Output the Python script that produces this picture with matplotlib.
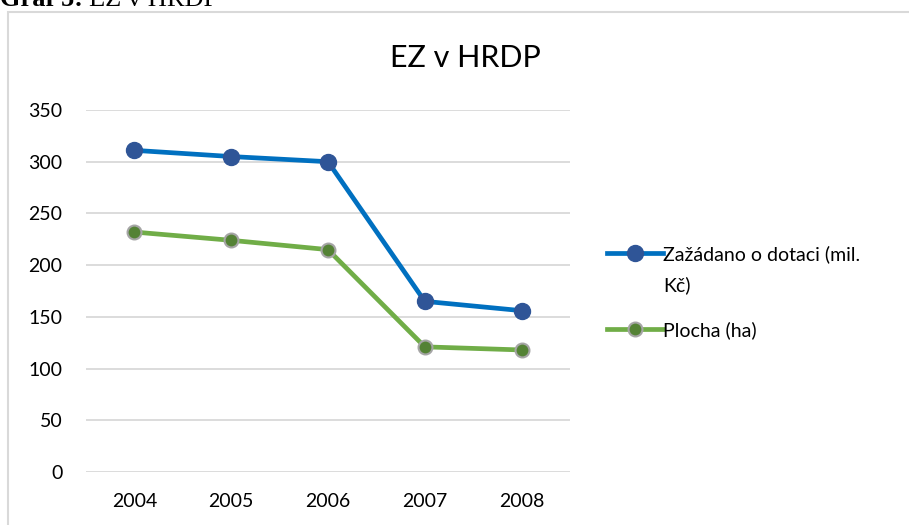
import matplotlib
matplotlib.use("Agg")
from matplotlib import pyplot as plt
from matplotlib.patches import Rectangle

years = ["2004", "2005", "2006", "2007", "2008"]
dotace = [311, 305, 300, 165, 156]
plocha = [232, 224, 215, 121, 118]
label_dotace = "Zažádano o dotaci (mil.\nKč)"
label_plocha = "Plocha (ha)"

plt.rcParams['font.family'] = ['Lato', 'DejaVu Sans']

fig = plt.figure(figsize=(9.09, 5.25), dpi=100)

# frame of the chart box (cut by the page on right/bottom)
fig.patches.append(Rectangle((8/909, -0.1), 1.2, 1 - 12/525 + 0.1, transform=fig.transFigure,
                             fill=False, edgecolor='#d9d9d9', linewidth=1.5))

# caption above the chart, mostly cut off by the top edge
cap1 = fig.text(0.0, 1 - 6/525, "Graf 5:", family='Liberation Serif', fontweight='bold', fontsize=19, va='baseline')
r = fig.canvas.get_renderer()
w = cap1.get_window_extent(r).width
fig.text((w + 6) / 909, 1 - 6/525, "EZ v HRDP", family='Liberation Serif', fontsize=19, va='baseline')

ax = fig.add_axes([86/909, 1 - 472/525, (570-86)/909, (472-110)/525])
x = range(len(years))
ax.plot(x, dotace, color='#0070C0', linewidth=3.4, marker='o', markersize=11.5,
        markerfacecolor='#2F5597', markeredgecolor='#2F5597', label=label_dotace, zorder=3)
ax.plot(x, plocha, color='#70AD47', linewidth=3.4, marker='o', markersize=10,
        markerfacecolor='#548235', markeredgecolor='#A5A5A5', markeredgewidth=1.5, label=label_plocha, zorder=3)

ax.set_xlim(-0.5, 4.5)
ax.set_ylim(0, 350)
ax.set_yticks(range(0, 351, 50))
ax.set_xticks(list(x))
ax.set_xticklabels(years)
ax.grid(axis='y', color='#d9d9d9', linewidth=1.3)
ax.set_axisbelow(True)
for s in ax.spines.values():
    s.set_visible(False)
ax.tick_params(length=0, labelsize=14, colors='#000000')
ax.tick_params(axis='y', pad=17)
ax.tick_params(axis='x', pad=15)

fig.text(465/909, 1 - 58/525, "EZ v HRDP", fontsize=22, ha='center', va='center')

leg = ax.legend(loc='upper left', bbox_to_anchor=(607/909, 1 - 245/525), bbox_transform=fig.transFigure,
                frameon=False, fontsize=14, handlelength=2.9, handleheight=1.0, handletextpad=0.0,
                labelspacing=1.4, borderaxespad=0, borderpad=0)
for t in leg.get_texts():
    t.set_linespacing(1.9)
# handle next to the first line of a wrapped label
for col in leg._legend_handle_box.get_children():
    for item in col.get_children():
        item.align = 'top'

fig.savefig("out.png", dpi=100)
